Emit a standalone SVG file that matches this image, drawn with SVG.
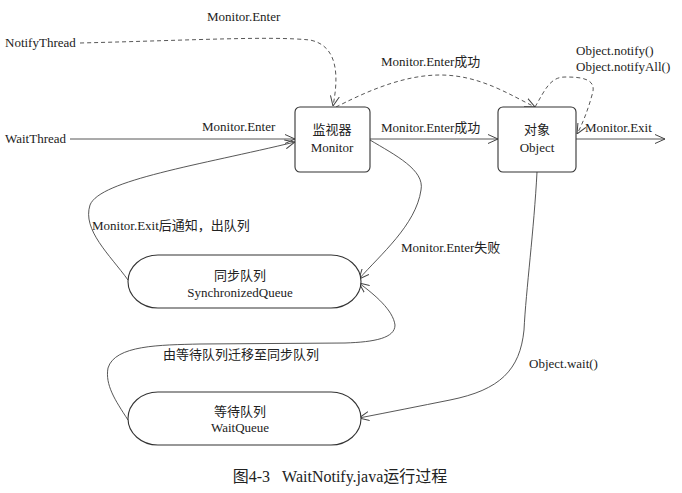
<svg xmlns="http://www.w3.org/2000/svg" width="682" height="493" viewBox="0 0 682 493">
<style>
text{font-family:"Liberation Serif","Noto Sans CJK SC",serif;font-size:13px;fill:#222}
.c{text-anchor:middle}
.box{fill:#fff;stroke:#333;stroke-width:1.1}
.ln{fill:none;stroke:#444;stroke-width:0.9}
.d{stroke-dasharray:4,3}
.cap{font-size:16px;white-space:pre}
</style>
<defs>
<marker id="a" viewBox="0 0 10 10" refX="10" refY="5" markerWidth="10" markerHeight="10" markerUnits="userSpaceOnUse" orient="auto">
<path d="M0,0.5 L10,5 L0,9.5" fill="none" stroke="#444" stroke-width="1"/>
</marker>
</defs>
<rect width="682" height="493" fill="#fff"/>
<g id="connectors">
<path class="ln" d="M70,139 L295,139" marker-end="url(#a)"/>
<path class="ln d" d="M80,43 C200,40 270,36 310,40 C340,46 338,80 333,106" marker-end="url(#a)"/>
<path class="ln d" d="M336,107 C360,95 400,75 440,75 C480,75 510,95 535,107" marker-end="url(#a)"/>
<path class="ln" d="M370,139 L498,139" marker-end="url(#a)"/>
<path class="ln d" d="M535,107 C545,90 550,77 565,77 C580,77 598,78 592,95 C588,110 582,125 577,134" marker-end="url(#a)"/>
<path class="ln" d="M576,139 L665,139" marker-end="url(#a)"/>
<path class="ln" d="M370,140 C395,155 425,170 421,190 C416,225 380,255 359,279" marker-end="url(#a)"/>
<path class="ln" d="M128,280 C110,255 82,230 90,205 C100,180 200,165 295,142" marker-end="url(#a)"/>
<path class="ln" d="M128,420 C115,400 105,385 108,368 C115,345 160,345 200,344 L345,343 C375,342 395,338 395,325 C393,310 375,295 359,283" marker-end="url(#a)"/>
<path class="ln" d="M537,172 C534,230 526,290 524,330 C520,370 500,390 450,400 C420,406 390,412 359,418" marker-end="url(#a)"/>
</g>
<g id="monitor">
<rect class="box" x="295" y="107" width="75" height="65" rx="5"/>
<text class="c" x="332" y="134">监视器</text>
<text class="c" x="332" y="152">Monitor</text>
</g>
<g id="object">
<rect class="box" x="498" y="107" width="78" height="65" rx="5"/>
<text class="c" x="537" y="134">对象</text>
<text class="c" x="537" y="152">Object</text>
</g>
<g id="syncqueue">
<rect class="box" x="128" y="255" width="233" height="53" rx="30" ry="26.5"/>
<text class="c" x="240" y="280">同步队列</text>
<text class="c" x="240" y="297">SynchronizedQueue</text>
</g>
<g id="waitqueue">
<rect class="box" x="128" y="392" width="233" height="53" rx="30" ry="26.5"/>
<text class="c" x="240" y="416">等待队列</text>
<text class="c" x="240" y="432">WaitQueue</text>
</g>
<g id="notifythread"><text x="5" y="47">NotifyThread</text></g>
<g id="waitthread"><text x="5" y="143">WaitThread</text></g>
<g id="labels">
<text x="207" y="21">Monitor.Enter</text>
<text x="202" y="131">Monitor.Enter</text>
<text x="381" y="66">Monitor.Enter成功</text>
<text x="381" y="132">Monitor.Enter成功</text>
<text x="576" y="55">Object.notify()</text>
<text x="576" y="71">Object.notifyAll()</text>
<text x="585" y="132">Monitor.Exit</text>
<text x="401" y="252">Monitor.Enter失败</text>
<text x="92" y="230">Monitor.Exit后通知，出队列</text>
<text x="163" y="359">由等待队列迁移至同步队列</text>
<text x="529" y="368">Object.wait()</text>
</g>
<text class="cap c" x="340" y="482">图4-3   WaitNotify.java运行过程</text>
</svg>
